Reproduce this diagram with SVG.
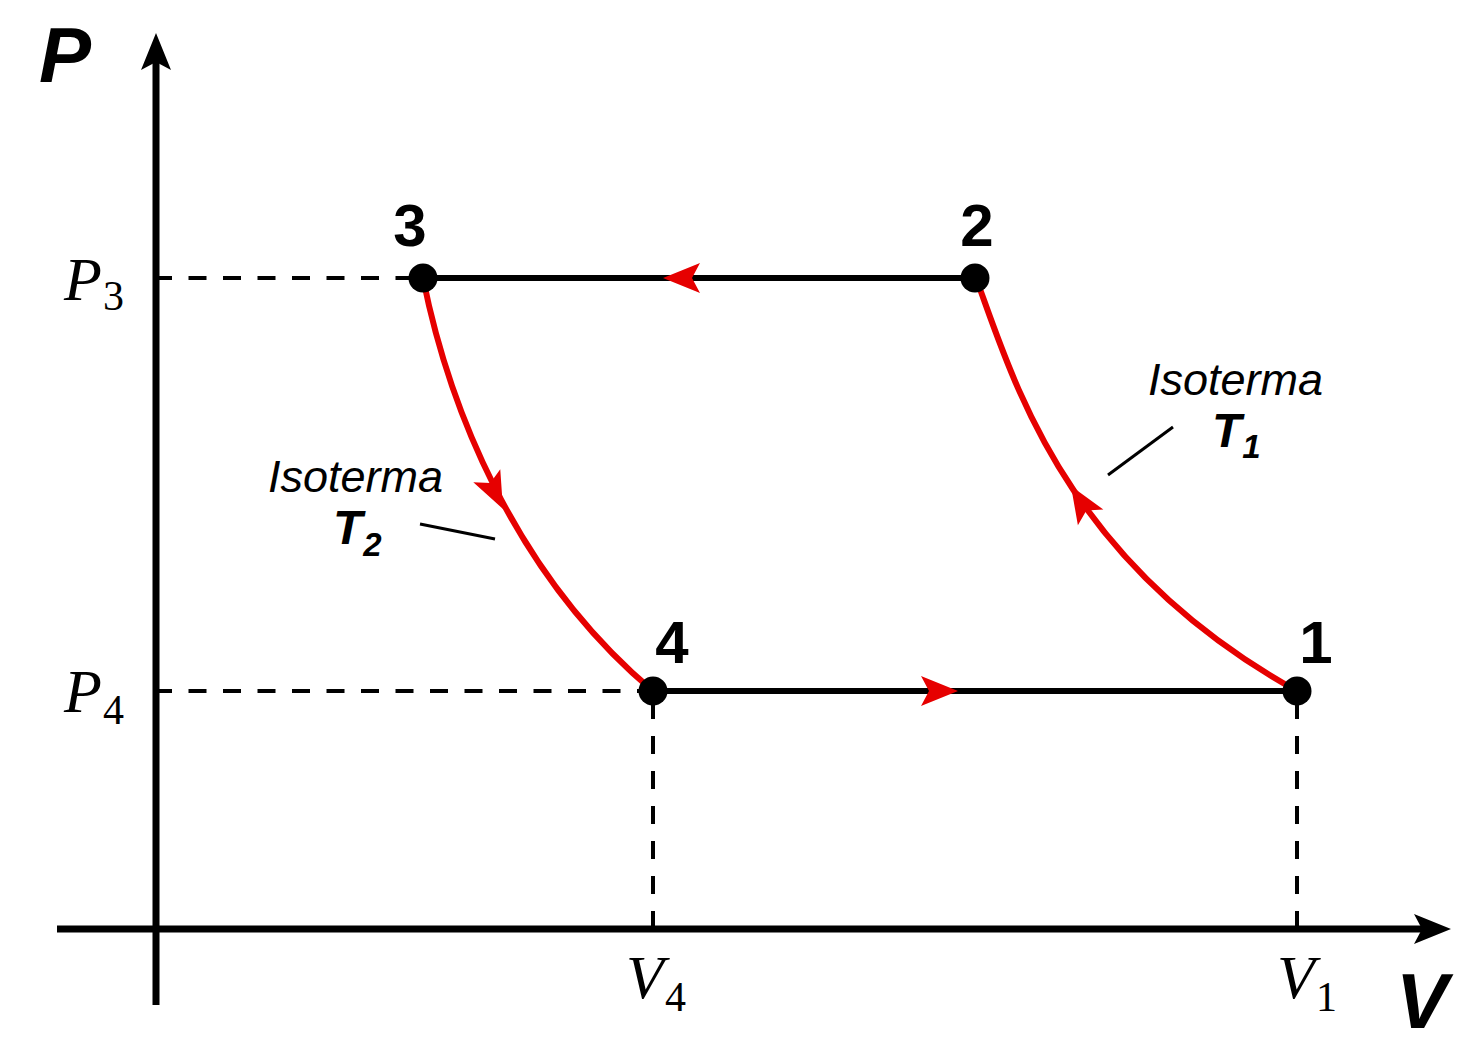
<svg xmlns="http://www.w3.org/2000/svg" width="1483" height="1061" viewBox="0 0 1483 1061">
  <style>
    .axis { stroke: #000; stroke-width: 7; fill: none; }
    .edge { stroke: #000; stroke-width: 6; fill: none; }
    .iso { stroke: #e60000; stroke-width: 6; fill: none; }
    .dash { stroke: #000; stroke-width: 4; fill: none; stroke-dasharray: 18 16.5; }
    .lead { stroke: #000; stroke-width: 3; fill: none; }
    .ahk { fill: #000; }
    .ahr { fill: #e60000; }
    .pt { fill: #000; }
    .num { font-family: "Liberation Sans", Arial, sans-serif; font-weight: bold; font-size: 60px; text-anchor: middle; fill: #000; }
    .ax { font-family: "Liberation Sans", Arial, sans-serif; font-weight: bold; font-style: italic; font-size: 78px; fill: #000; }
    .var { font-family: "Liberation Serif", "Times New Roman", serif; font-style: italic; font-size: 62px; fill: #000; }
    .sub { font-style: normal; font-size: 42px; }
    .iso-lbl { font-family: "Liberation Sans", Arial, sans-serif; font-style: italic; font-size: 45px; fill: #000; }
    .t-lbl { font-family: "Liberation Sans", Arial, sans-serif; font-style: italic; font-weight: bold; font-size: 48px; fill: #000; }
    .t-sub { font-size: 33px; }
  </style>
  <defs>
    <path id="ah" d="M0,0 L-37,-15 L-29,0 L-37,15 Z"/>
  </defs>
  <rect width="1483" height="1061" fill="#fff"/>

  <g id="axes">
    <line class="axis" x1="156" y1="1005" x2="156" y2="62"/>
    <line class="axis" x1="57" y1="929" x2="1424" y2="929"/>
    <use href="#ah" class="ahk" transform="translate(156,33) rotate(-90)"/>
    <use href="#ah" class="ahk" transform="translate(1451,929)"/>
    <text class="ax" x="39" y="82">P</text>
    <text class="ax" x="1396" y="1028">V</text>
  </g>

  <g id="guides">
    <line class="dash" x1="154" y1="278" x2="423" y2="278"/>
    <line class="dash" x1="154" y1="691" x2="653" y2="691"/>
    <line class="dash" style="stroke-dasharray:18 17" x1="653" y1="929" x2="653" y2="691"/>
    <line class="dash" style="stroke-dasharray:18 17" x1="1297" y1="929" x2="1297" y2="691"/>
    <text class="var" x="64" y="300">P<tspan class="sub" dx="1" dy="10">3</tspan></text>
    <text class="var" x="64" y="712">P<tspan class="sub" dx="1" dy="12">4</tspan></text>
    <text class="var" x="626" y="998">V<tspan class="sub" dx="1" dy="13">4</tspan></text>
    <text class="var" x="1277" y="998">V<tspan class="sub" dx="1" dy="13">1</tspan></text>
  </g>

  <g id="connectors">
    <line class="edge" x1="975" y1="278" x2="423" y2="278"/>
    <line class="edge" x1="653" y1="691" x2="1297" y2="691"/>
    <path class="iso" d="M423,278 C448,403 512,572 653,691"/>
    <path class="iso" d="M1297,691 C1063,561 1013,378 976,278"/>
    <use href="#ah" class="ahr" transform="translate(663,278) rotate(180)"/>
    <use href="#ah" class="ahr" transform="translate(958,691)"/>
    <use href="#ah" class="ahr" transform="translate(503,509) rotate(64)"/>
    <use href="#ah" class="ahr" transform="translate(1071,486) rotate(-122)"/>
  </g>

  <g id="node-1">
    <circle class="pt" cx="1297" cy="691" r="14.5"/>
    <text class="num" x="1316" y="663">1</text>
  </g>
  <g id="node-2">
    <circle class="pt" cx="975" cy="278" r="14.5"/>
    <text class="num" x="977" y="246">2</text>
  </g>
  <g id="node-3">
    <circle class="pt" cx="423" cy="278" r="14.5"/>
    <text class="num" x="410" y="246">3</text>
  </g>
  <g id="node-4">
    <circle class="pt" cx="653" cy="691" r="14.5"/>
    <text class="num" x="672" y="663">4</text>
  </g>

  <g id="label-T2">
    <text class="iso-lbl" x="268" y="492">Isoterma</text>
    <text class="t-lbl" x="333" y="544">T<tspan class="t-sub" dx="1" dy="12">2</tspan></text>
    <line class="lead" x1="420" y1="524" x2="495" y2="539"/>
  </g>
  <g id="label-T1">
    <text class="iso-lbl" x="1148" y="395">Isoterma</text>
    <text class="t-lbl" x="1212" y="447">T<tspan class="t-sub" dx="1" dy="11">1</tspan></text>
    <line class="lead" x1="1173" y1="427" x2="1108" y2="475"/>
  </g>
</svg>
